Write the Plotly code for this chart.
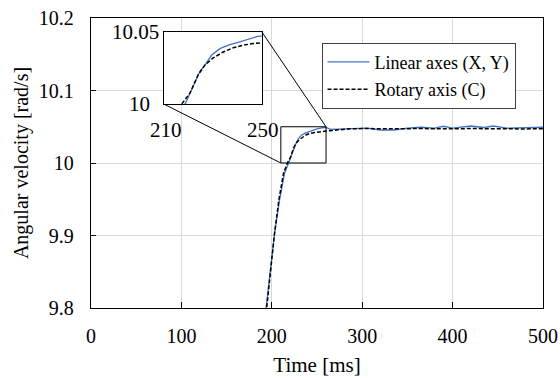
import plotly.graph_objects as go

# ---- data ----
t_lin = [190, 194.6, 199.4, 203.1, 208.6, 214.1, 218.6, 221.3, 224.7, 226.7, 229.4, 232.8,
         236.9, 241, 245.1, 247.8, 250, 255, 260, 265, 275, 290, 305, 320, 335, 350, 365,
         380, 390, 400, 420, 435, 445, 460, 480, 500]
v_lin = [9.76, 9.811, 9.857, 9.903, 9.949, 9.986, 10.0, 10.0099, 10.0227, 10.027, 10.0338, 10.0384,
         10.0412, 10.0431, 10.0451, 10.0467, 10.0472, 10.0485, 10.049, 10.0465, 10.047, 10.048, 10.048,
         10.0455, 10.0455, 10.048, 10.0493, 10.048, 10.0507, 10.048, 10.051, 10.049, 10.051, 10.048,
         10.049, 10.0493]
t_rot = [191, 195.3, 199.8, 203.0, 207.8, 213.0, 217.2, 220.6, 224, 226.7, 230.1, 234.2, 238.3,
         242.4, 246.5, 250, 260, 270, 285, 300, 320, 340, 360, 380, 400, 420, 440, 460, 480, 500]
v_rot = [9.76, 9.811, 9.857, 9.903, 9.949, 9.986, 10.0, 10.0076, 10.0204, 10.027, 10.032, 10.0361,
         10.039, 10.0408, 10.042, 10.0424, 10.044, 10.0455, 10.047, 10.0475, 10.047, 10.0472, 10.0475,
         10.047, 10.0472, 10.0475, 10.047, 10.0475, 10.047, 10.0472]

series_names = ["Linear axes (X, Y)", "Rotary axis (C)"]
x_range = [0, 500]
y_range = [9.8, 10.2]
x_ticks = [0, 100, 200, 300, 400, 500]
y_ticks = [9.8, 9.9, 10.0, 10.1, 10.2]
y_tick_text = ["9.8", "9.9", "10", "10.1", "10.2"]
inset_x = [210, 250]
inset_y = [10.0, 10.05]
inset_x_labels = ["210", "250"]
inset_y_labels = ["10", "10.05"]
zoom_box_x = [210, 260]
zoom_box_y = [10.0, 10.05]

# ---- style / layout ----
FONT = "Liberation Serif"
BLUE = "#4472C4"
W, H = 560, 378
M = dict(l=91, r=17, t=18, b=70)
inset_dom_x = [0.1615, 0.378]
inset_dom_y = [0.703, 0.952]
f_tick = dict(family=FONT, size=20, color="black")
f_xt = dict(family=FONT, size=21, color="black")
f_yt = dict(family=FONT, size=20, color="black")
f_in = dict(family=FONT, size=21, color="black")
f_leg = dict(family=FONT, size=18, color="black")

fig = go.Figure()
fig.add_trace(go.Scatter(x=t_lin, y=v_lin, mode="lines", name=series_names[0],
                         line=dict(color=BLUE, width=1.3), legendgroup="a"))
fig.add_trace(go.Scatter(x=t_rot, y=v_rot, mode="lines", name=series_names[1],
                         line=dict(color="black", width=1.5, dash="4px,2px"), legendgroup="b"))
fig.add_trace(go.Scatter(x=t_lin, y=v_lin, mode="lines", showlegend=False,
                         line=dict(color=BLUE, width=1.3), xaxis="x2", yaxis="y2"))
fig.add_trace(go.Scatter(x=t_rot, y=v_rot, mode="lines", showlegend=False,
                         line=dict(color="black", width=1.5, dash="4px,2px"), xaxis="x2", yaxis="y2"))


def px(t):
    return (t - x_range[0]) / (x_range[1] - x_range[0])


def py(v):
    return (v - y_range[0]) / (y_range[1] - y_range[0])


shapes = [
    dict(type="rect", xref="x", yref="y", x0=zoom_box_x[0], x1=zoom_box_x[1],
         y0=zoom_box_y[0], y1=zoom_box_y[1], line=dict(color="black", width=1)),
    dict(type="line", xref="paper", yref="paper", x0=inset_dom_x[0], y0=inset_dom_y[0],
         x1=px(zoom_box_x[0]), y1=py(zoom_box_y[0]), line=dict(color="black", width=1)),
    dict(type="line", xref="paper", yref="paper", x0=inset_dom_x[1], y0=inset_dom_y[1],
         x1=px(zoom_box_x[1]), y1=py(zoom_box_y[1]), line=dict(color="black", width=1)),
]

annotations = [
    dict(xref="paper", yref="paper", x=inset_dom_x[0], y=inset_dom_y[1], text=inset_y_labels[1],
         xanchor="right", yanchor="middle", xshift=-3, yshift=0, showarrow=False, font=f_in),
    dict(xref="paper", yref="paper", x=inset_dom_x[0], y=inset_dom_y[0], text=inset_y_labels[0],
         xanchor="right", yanchor="middle", xshift=-12, showarrow=False, font=f_in),
    dict(xref="paper", yref="paper", x=inset_dom_x[0], y=inset_dom_y[0], text=inset_x_labels[0],
         xanchor="center", yanchor="top", xshift=2, yshift=-12, showarrow=False, font=f_in),
    dict(xref="paper", yref="paper", x=inset_dom_x[1], y=inset_dom_y[0], text=inset_x_labels[1],
         xanchor="center", yanchor="top", xshift=1, yshift=-12, showarrow=False, font=f_in),
]

fig.update_layout(
    width=W, height=H, margin=M,
    paper_bgcolor="white", plot_bgcolor="white",
    font=f_tick,
    xaxis=dict(range=x_range, tickvals=x_ticks, showgrid=True, gridcolor="#d9d9d9", gridwidth=1,
               showline=True, linecolor="black", linewidth=1.3, mirror=True, automargin=False,
               ticks="inside", ticklen=6, tickcolor="black", zeroline=False, tickfont=f_tick,
               title=dict(text="Time [ms]", standoff=11, font=f_xt), ticklabelstandoff=10),
    yaxis=dict(range=y_range, tickvals=y_ticks, ticktext=y_tick_text, showgrid=True,
               gridcolor="#d9d9d9", gridwidth=1, tickfont=f_tick, automargin=False,
               showline=True, linecolor="black", linewidth=1.3, mirror=True,
               ticks="inside", ticklen=5, tickcolor="black", zeroline=False,
               title=dict(text="Angular velocity [rad/s]", standoff=4, font=f_yt), ticklabelstandoff=12),
    xaxis2=dict(domain=inset_dom_x, anchor="y2", range=inset_x,
                showgrid=False, showticklabels=False, ticks="", zeroline=False,
                showline=True, linecolor="black", linewidth=1, mirror=True),
    yaxis2=dict(domain=inset_dom_y, anchor="x2", range=inset_y,
                showgrid=False, showticklabels=False, ticks="", zeroline=False,
                showline=True, linecolor="black", linewidth=1, mirror=True),
    legend=dict(x=0.51, y=0.915, xanchor="left", yanchor="top", bgcolor="white",
                bordercolor="#404040", borderwidth=1, font=f_leg, itemwidth=42,
                tracegroupgap=1),
    shapes=shapes, annotations=annotations,
    showlegend=True,
)

fig.write_html("out.html")
